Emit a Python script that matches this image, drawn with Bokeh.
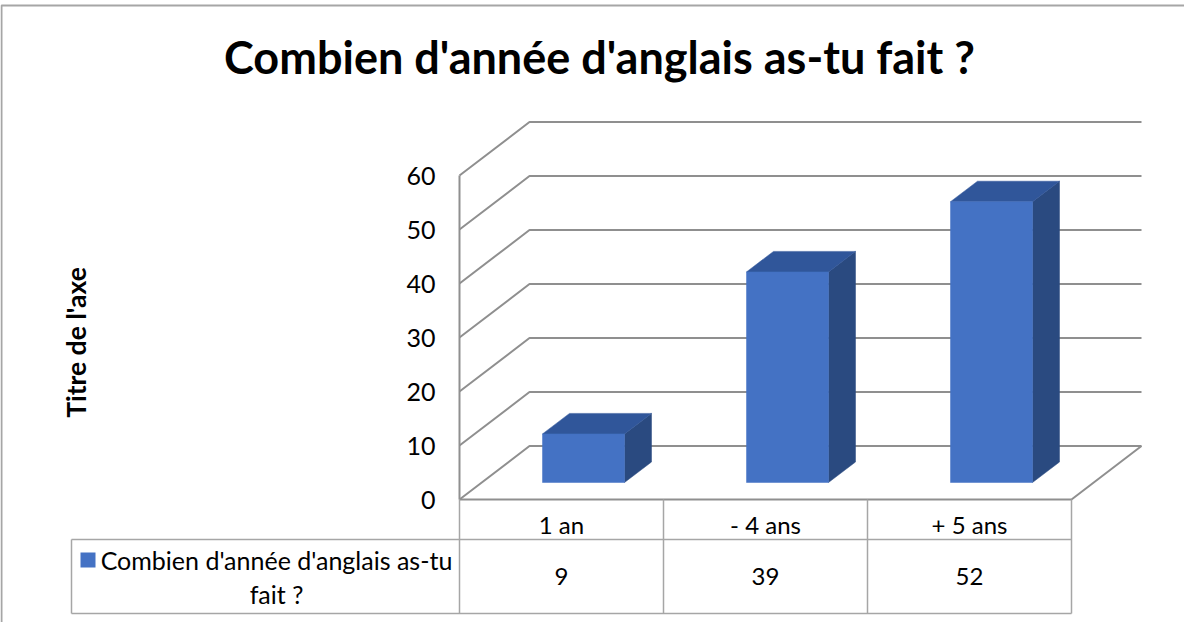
from bokeh.plotting import figure
from bokeh.models import Range1d
from bokeh.core.properties import value
from bokeh.embed import file_html
from bokeh.resources import INLINE

# ---------------- data ----------------
title_text = "Combien d'année d'anglais as-tu fait ?"
axis_title = "Titre de l'axe"
series_name = "Combien d'année d'anglais as-tu fait ?"
categories = ["1 an", "- 4 ans", "+ 5 ans"]
values = [9, 39, 52]
ticks = [0, 10, 20, 30, 40, 50, 60]

# ---------------- layout (pixels) ----------------
W, H = 1184, 622
CAT_PX = 204.0        # width of one category on the front plane
UNIT_PX = 5.4         # pixels per value unit
WALL_LEFT = 459.0     # x pixel of the front-left wall edge
FLOOR_Y = 499.0       # y pixel (from top) of value 0 on the front plane

x_start = -0.5 - WALL_LEFT / CAT_PX
x_end = x_start + W / CAT_PX
y_end = FLOOR_Y / UNIT_PX
y_start = y_end - H / UNIT_PX


def X(px):
    return x_start + px / CAT_PX


def Y(py):
    return y_end - py / UNIT_PX


def DXp(px):
    return px / CAT_PX


def DYp(py):
    return py / UNIT_PX


FONT = "Lato"
GRID = "#8f8f8f"
TABLE = "#a6a6a6"
FRONT = "#4472C4"
TOP = "#30569A"
SIDE = "#2A4A80"

p = figure(width=W, height=H, x_range=Range1d(x_start, x_end), y_range=Range1d(y_start, y_end),
           output_backend="svg", toolbar_location=None, min_border=0,
           x_axis_type=None, y_axis_type=None)
p.grid.visible = False
p.outline_line_color = None
p.background_fill_color = "white"
p.border_fill_color = "white"

n = len(categories)
left_edge = -0.5
right_edge = n - 0.5
DX = DXp(70)
DY = DYp(53.5)
top_tick = ticks[-1]

# outer chart border (top and left only visible)
p.line([X(1), X(1), X(W + 20)], [Y(H + 20), Y(5), Y(5)], line_color=TABLE, line_width=2)

# walls / gridlines
gx, gy = [], []
for t in ticks:
    gx.append([left_edge, left_edge + DX, right_edge + DX])
    gy.append([t, t + DY, t + DY])
gx.append([left_edge, left_edge])
gy.append([0, top_tick])
gx.append([left_edge, right_edge, right_edge + DX])
gy.append([0, 0, DY])
p.multi_line(gx, gy, line_color=GRID, line_width=2)

# bars (3D boxes)
BAR_W = DXp(82)
FDX, FDY = DXp(22), DYp(17)
BDX, BDY = DXp(27), DYp(20.5)
fx, fy, tx, ty, sx, sy = [], [], [], [], [], []
for i, v in enumerate(values):
    xl = i - BAR_W / 2 + FDX
    xr = xl + BAR_W
    yb = FDY
    yt = v + FDY
    fx.append([xl, xr, xr, xl]); fy.append([yb, yb, yt, yt])
    tx.append([xl, xr, xr + BDX, xl + BDX]); ty.append([yt, yt, yt + BDY, yt + BDY])
    sx.append([xr, xr + BDX, xr + BDX, xr]); sy.append([yb, yb + BDY, yt + BDY, yt])
p.patches(sx, sy, fill_color=SIDE, line_color=SIDE, line_width=0.5)
p.patches(tx, ty, fill_color=TOP, line_color=TOP, line_width=0.5)
p.patches(fx, fy, fill_color=FRONT, line_color=FRONT, line_width=0.5)

# y tick labels
p.text(x=[X(WALL_LEFT - 24)] * len(ticks), y=ticks, text=[str(t) for t in ticks],
       text_font=value(FONT), text_font_size="25px", text_align="right",
       text_baseline="middle", text_color="#000000")

# data table
row1_bottom = Y(539)
row2_bottom = Y(613)
legend_left = X(71)
tx_lines, ty_lines = [], []
for k in range(n + 1):
    tx_lines.append([left_edge + k, left_edge + k])
    ty_lines.append([0, row2_bottom])
tx_lines.append([legend_left, right_edge]); ty_lines.append([row1_bottom, row1_bottom])
tx_lines.append([legend_left, right_edge]); ty_lines.append([row2_bottom, row2_bottom])
tx_lines.append([legend_left, legend_left]); ty_lines.append([row1_bottom, row2_bottom])
p.multi_line(tx_lines, ty_lines, line_color=TABLE, line_width=1.5)

TFS = "24px"
p.text(x=list(range(n)), y=[Y(524)] * n, text=categories,
       text_font=value(FONT), text_font_size=TFS, text_align="center",
       text_baseline="middle", text_color="#000000")
p.text(x=list(range(n)), y=[Y(576)] * n, text=[str(v) for v in values],
       text_font=value(FONT), text_font_size=TFS, text_align="center",
       text_baseline="middle", text_color="#000000")

# legend key + series name
p.quad(left=[X(80)], right=[X(95)], top=[Y(552)], bottom=[Y(567)], fill_color=FRONT, line_color=None)
words = series_name.rsplit(" ", 2)
leg_lines = [words[0], " ".join(words[1:])]
p.text(x=[X(276)] * 2, y=[Y(559), Y(593)], text=leg_lines,
       text_font=value(FONT), text_font_size="25px", text_align="center",
       text_baseline="middle", text_color="#000000")

# axis title
p.text(x=[X(75)], y=[Y(342)], text=[axis_title], angle=1.5707963,
       text_font=value(FONT), text_font_size="26.5px", text_font_style="bold",
       text_align="center", text_baseline="middle", text_color="#000000")

# chart title
p.text(x=[X(599)], y=[Y(56)], text=[title_text],
       text_font=value(FONT), text_font_size="45px", text_font_style="bold",
       text_align="center", text_baseline="middle", text_color="#000000")

open("out.html", "w").write(file_html(p, INLINE))
